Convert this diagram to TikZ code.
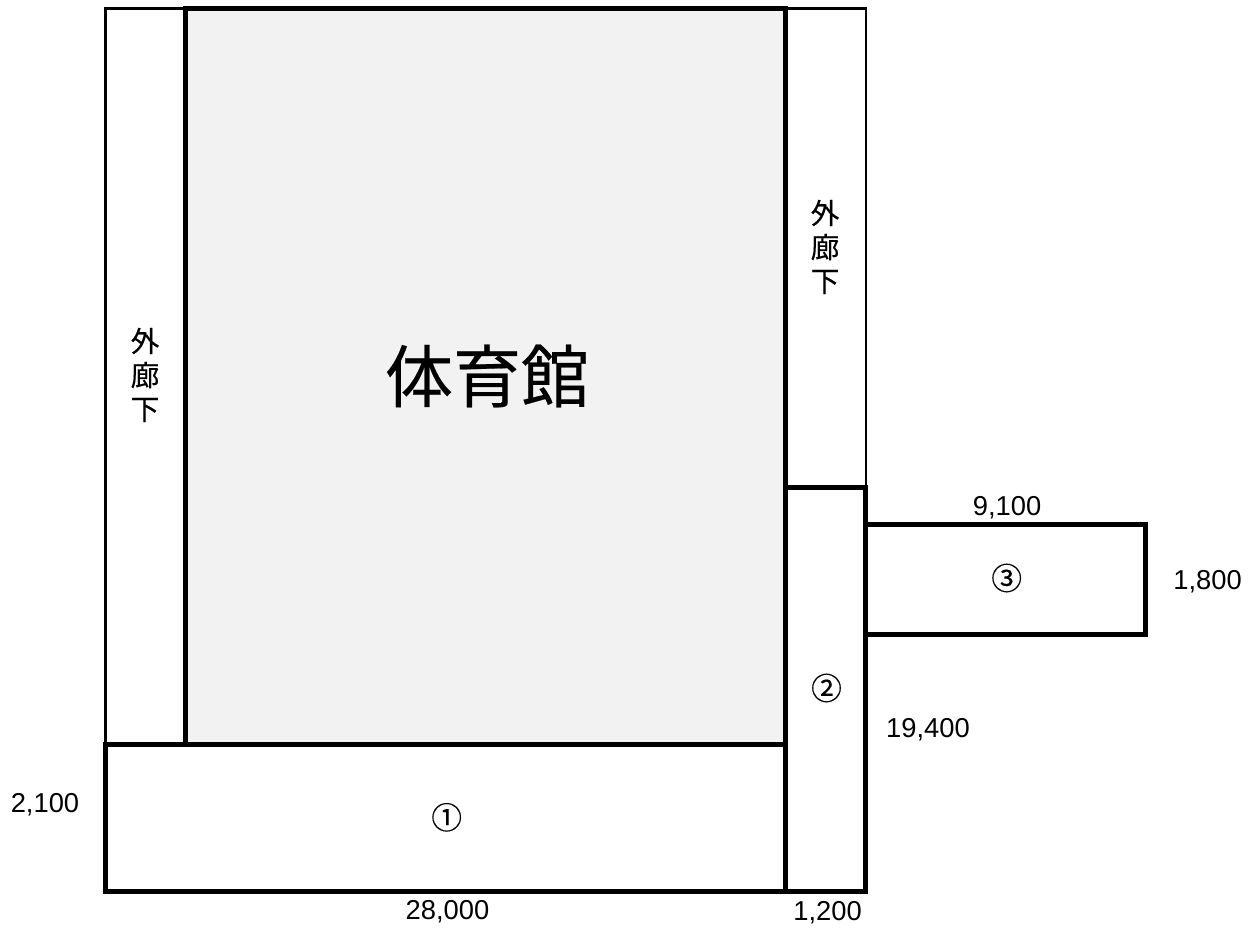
\documentclass[tikz,border=0pt]{standalone}
\usepackage{fontspec}
\setmainfont{Liberation Sans}
\newfontfamily\cjk{Noto Sans CJK JP}
\newfontfamily\cjkheavy[FakeBold=0.3]{Noto Sans CJK JP}
\tikzset{
  px/.style={x=0.75pt,y=-0.75pt},
  thin wall/.style={draw=black,line width=1.9pt,fill=white},
  thick wall/.style={draw=black,line width=3.75pt,line join=miter},
  dim/.style={font=\fontsize{20.5}{22}\selectfont,inner sep=0pt,anchor=base},
  num/.style={font=\cjkheavy\fontsize{23}{25}\selectfont,inner sep=0pt,anchor=center},
  corridor/.style={font=\cjkheavy\fontsize{21.5}{25.5}\selectfont,inner sep=0pt,align=center,anchor=center},
  hall/.style={font=\cjkheavy\fontsize{51}{55}\selectfont,inner sep=0pt,anchor=center}
}
\begin{document}
\begin{tikzpicture}[px]
\useasboundingbox (0,0) rectangle (1256,930);
\fill[white] (0,0) rectangle (1256,930);
% outer corridors
\draw[thin wall] (105.7,8.5) rectangle (866,745);
% gymnasium
\draw[thick wall,fill=black!5] (185.8,8.8) rectangle (785.8,744.8);
% areas
\draw[thick wall,fill=white] (105.5,744.8) rectangle (785.8,891.5);
\draw[thick wall,fill=white] (785.8,487) rectangle (865.8,891.5);
\draw[thick wall,fill=white] (865.8,524) rectangle (1145.8,634.5);
% labels
\node[hall] (gym) at (487,376) {体育館};
\node[corridor] (c1) at (145,375) {外\\廊\\下};
\node[corridor] (c2) at (825,247) {外\\廊\\下};
\node[num] (n1) at (446.7,817.3) {①};
\node[num] (n2) at (826.5,688) {②};
\node[num] (n3) at (1006.7,578) {③};
\node[dim] (d1) at (447.5,919) {28,000};
\node[dim] (d2) at (827.5,920) {1,200};
\node[dim] (d3) at (45,812) {2,100};
\node[dim] (d4) at (928,737) {19,400};
\node[dim] (d5) at (1007,515) {9,100};
\node[dim] (d6) at (1207.5,589) {1,800};
\end{tikzpicture}
\end{document}
